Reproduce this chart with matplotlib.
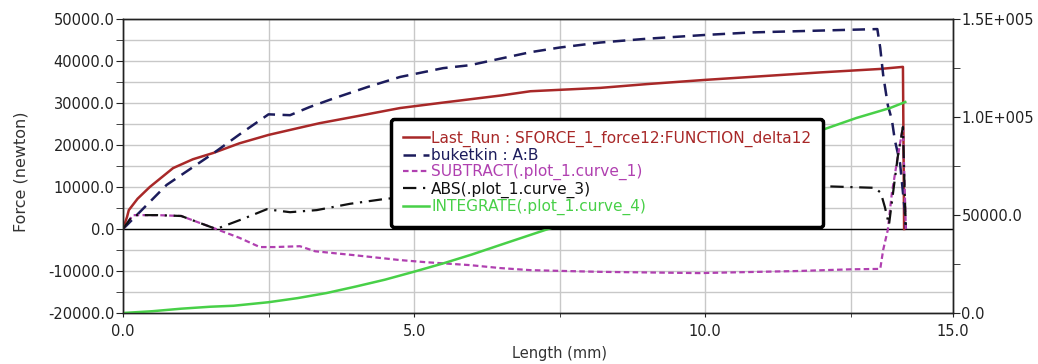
import numpy as np
import matplotlib
matplotlib.use("Agg")
import matplotlib.pyplot as plt
from matplotlib.ticker import MultipleLocator

# data
x_run = [0, 0.07, 0.1, 0.25, 0.46, 0.86, 1.2, 1.55, 2.0, 2.5, 3.0, 3.38, 4.0, 4.76, 5.5,
         6.5, 7.0, 8.2, 9.0, 10.0, 11.0, 12.0, 13.0, 13.40, 13.42]
last_run = [0, 2900, 4500, 7200, 10000, 14500, 16600, 18100, 20400, 22400, 24000, 25200, 26800,
            28800, 30100, 31800, 32800, 33600, 34500, 35500, 36400, 37300, 38100, 38600, 0]

x_buk = [0, 0.75, 1.55, 2.0, 2.5, 2.87, 3.2, 3.6, 4.2, 4.76, 5.5, 5.96, 7.0, 7.5, 8.2, 9.0,
         10.0, 10.8, 11.6, 12.4, 12.96, 13.01, 13.06, 13.14, 13.21, 13.26, 13.35, 13.43, 13.45]
buketkin = [0, 10500, 18000, 22500, 27300, 27100, 29000, 31000, 33800, 36200, 38300, 39000,
            42100, 43200, 44400, 45300, 46200, 46800, 47100, 47400, 47600, 43100, 36700,
            29500, 26000, 21200, 15700, 4500, 0]

x_sub = [0, 0.17, 0.6, 1.0, 1.27, 1.6, 2.0, 2.35, 2.6, 3.04, 3.3, 3.95, 4.76, 5.2, 5.96, 6.48,
         7.0, 8.2, 9.9, 11.6, 12.5, 13.01, 13.06, 13.14, 13.21, 13.31, 13.40, 13.45]
subtract = [0, 3300, 3300, 3100, 1700, 0, -2100, -4300, -4300, -4100, -5300, -6200, -7400,
            -7900, -8600, -9300, -9800, -10200, -10500, -10000, -9600, -9500, -5000, -200,
            8600, 17100, 24300, 0]

x_abs = [0, 0.17, 0.6, 1.0, 1.27, 1.6, 2.06, 2.47, 2.87, 3.33, 3.9, 4.47, 5.0, 6.0, 7.0, 8.0,
         9.5, 11.0, 12.0, 12.92, 13.02, 13.09, 13.16, 13.23, 13.31, 13.40, 13.43, 13.45]
abs_curve = [0, 3300, 3300, 3100, 1700, 0, 2400, 4700, 4000, 4500, 6000, 7100, 7900, 8800,
             9800, 10200, 10400, 10300, 10200, 9800, 8600, 5200, 1000, 8600, 17100, 24300,
             8600, 0]

x_int = [0, 0.5, 1.0, 1.5, 1.9, 2.5, 3.0, 3.5, 4.0, 4.5, 4.98, 5.5, 6.0, 6.48, 7.46, 8.5,
         9.5, 10.5, 11.5, 12.06, 12.6, 13.18, 13.44]
integrate = [0, 900, 2200, 3200, 3700, 5500, 7600, 10200, 13500, 17000, 20900, 25300, 29900,
             34700, 44400, 55500, 66200, 77000, 87800, 93900, 99500, 104600, 107650]

labels = ["Last_Run : SFORCE_1_force12:FUNCTION_delta12", "buketkin : A:B",
          "SUBTRACT(.plot_1.curve_1)", "ABS(.plot_1.curve_3)", "INTEGRATE(.plot_1.curve_4)"]
colors = ["#a82828", "#1c1c5c", "#b040b0", "#111111", "#48d048"]

x_end = 14.26
x_ticks = [0, 5, 10, x_end]
x_ticklabels = ["0.0", "5.0", "10.0", "15.0"]
yl_ticks = [-20000, -10000, 0, 10000, 20000, 30000, 40000, 50000]
yr_ticks = [0, 50000, 100000, 150000]
yr_ticklabels = ["0.0", "50000.0", "1.0E+005", "1.5E+005"]

plt.rcParams["font.family"] = "DejaVu Sans"
plt.rcParams["font.size"] = 10.5

fig = plt.figure(figsize=(10.38, 3.64), dpi=100)
ax = fig.add_axes([123 / 1038, 51 / 364, 830 / 1038, 294 / 364])
ax2 = ax.twinx()

ax.set_xlim(0, x_end)
ax.set_ylim(-20000, 50000)
ax2.set_ylim(0, 150000)

ax.xaxis.set_minor_locator(MultipleLocator(2.5))
ax.yaxis.set_minor_locator(MultipleLocator(5000))
ax2.yaxis.set_minor_locator(MultipleLocator(25000))
ax.grid(True, which="both", color="#c8c8c8", lw=1)
ax.set_axisbelow(True)
ax.axhline(0, color="black", lw=1)

l1, = ax.plot(x_run, last_run, color=colors[0], lw=1.8, label=labels[0])
l2, = ax.plot(x_buk, buketkin, color=colors[1], lw=1.8, dashes=(5, 3), label=labels[1])
l3, = ax.plot(x_sub, subtract, color=colors[2], lw=1.6, dashes=(2.5, 1.5), label=labels[2])
l4, = ax.plot(x_abs, abs_curve, color=colors[3], lw=1.6, dashes=(6, 3, 1, 3), label=labels[3])
l5, = ax2.plot(x_int, integrate, color=colors[4], lw=1.8, label=labels[4])

ax.set_xticks(x_ticks)
ax.set_xticklabels(x_ticklabels)
ax.set_yticks(yl_ticks)
ax.set_yticklabels([f"{v:.1f}" for v in yl_ticks])
ax2.set_yticks(yr_ticks)
ax2.set_yticklabels(yr_ticklabels)

ax.tick_params(axis="x", which="both", length=3, pad=5, colors="#222222")
ax.tick_params(axis="y", which="both", length=5, pad=1, colors="#222222")
ax2.tick_params(axis="y", which="both", length=5, pad=1, colors="#222222")
for a in (ax, ax2):
    for s in a.spines.values():
        s.set_color("#222222")
        s.set_linewidth(1)

ax.set_ylabel("Force (newton)", fontsize=11.5, color="#333333")
ax.yaxis.set_label_coords(-95 / 830, 0.48)
ax.set_xlabel("Length (mm)", color="#333333")
ax.xaxis.set_label_coords((560 - 123) / 830, -33 / 294)

leg = ax2.legend([l1, l2, l3, l4, l5], labels, loc="upper left",
                 bbox_to_anchor=((391 - 123) / 830, (313 - 119) / 294), borderaxespad=0,
                 frameon=True, fancybox=True, framealpha=1, edgecolor="black",
                 handlelength=1.7, handletextpad=0.15, labelspacing=0.08, borderpad=0.75,
                 fontsize=11.1)
leg.get_frame().set_linewidth(2.5)
for txt, c in zip(leg.get_texts(), colors):
    txt.set_color(c)

fig.savefig("out.png", dpi=100)
